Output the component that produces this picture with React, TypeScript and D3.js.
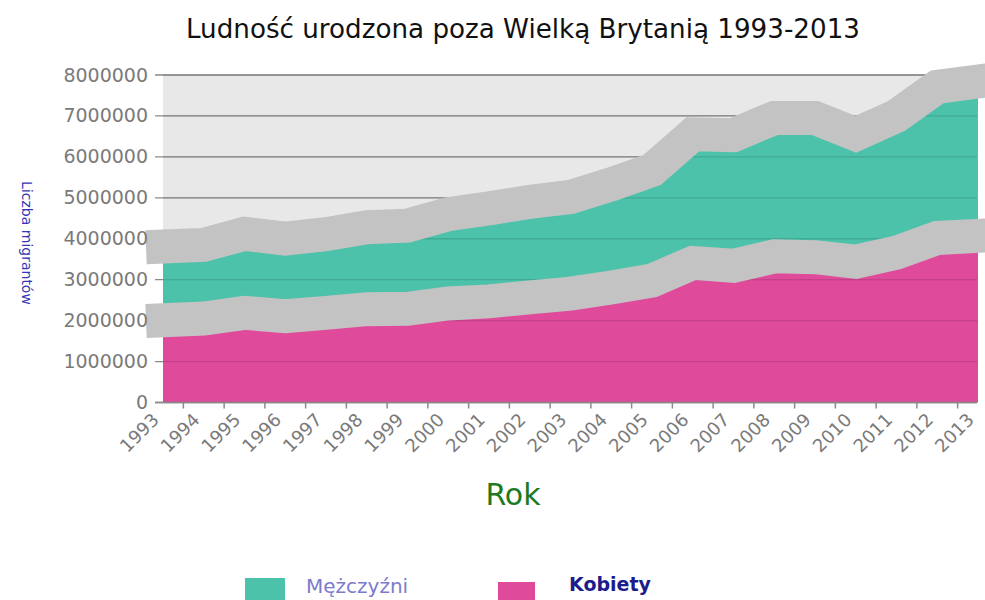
import React from "react";
import * as d3 from "d3";

const years = [1993, 1994, 1995, 1996, 1997, 1998, 1999, 2000, 2001, 2002, 2003, 2004, 2005, 2006, 2007, 2008, 2009, 2010, 2011, 2012, 2013];
const women = [2010000, 2050000, 2190000, 2110000, 2190000, 2280000, 2290000, 2420000, 2470000, 2570000, 2660000, 2810000, 2980000, 3410000, 3340000, 3570000, 3550000, 3440000, 3660000, 4020000, 4070000];
const men = [1800000, 1800000, 1930000, 1890000, 1920000, 2000000, 2030000, 2180000, 2270000, 2330000, 2360000, 2520000, 2700000, 3140000, 3190000, 3380000, 3400000, 3110000, 3340000, 3690000, 3770000];
const yTicks = [0, 1000000, 2000000, 3000000, 4000000, 5000000, 6000000, 7000000, 8000000];
const seriesKeys = ["women", "men"];
const seriesLabels = ["Mężczyźni", "Kobiety"];

const W = 985;
const H = 600;
const left = 163;
const right = 978;
const top = 75;
const bottom = 402.5;

export default function App() {
  const x = d3.scaleLinear().domain([1993, 2013]).range([left, right]);
  const y = d3.scaleLinear().domain([0, 8000000]).range([bottom, top]);

  const rows = years.map((yr, i) => ({ year: yr, women: women[i], men: men[i] }));
  const stacked = d3.stack<any>().keys(seriesKeys)(rows);

  const area = d3
    .area<any>()
    .x((d) => x(d.data.year))
    .y0((d) => y(d[0]))
    .y1((d) => y(d[1]));
  const line = d3
    .line<any>()
    .x((d) => x(d.data.year))
    .y((d) => y(d[1]));

  const fills = ["#df4a9b", "#4bc2a9"];
  const tickXs = years.slice(0, -1).map((yr) => yr + 0.5);
  const font = "'DejaVu Sans', Verdana, sans-serif";

  return (
    <svg width={W} height={H} style={{ position: "absolute", left: 0, top: 0, background: "#fff" }} fontFamily={font}>
      <text x={523} y={38} textAnchor="middle" fontSize={26} fill="#111" textLength={674} lengthAdjust="spacingAndGlyphs">
        Ludność urodzona poza Wielką Brytanią 1993-2013
      </text>
      <rect x={left} y={top} width={right - left - 1} height={bottom - top} fill="#e8e8e8" />
      {yTicks.map((t) => (
        <line key={"g" + t} x1={155} x2={right - 1} y1={y(t)} y2={y(t)} stroke="#8a8a8a" strokeWidth={1.3} />
      ))}
      {stacked.map((s, i) => (
        <path key={"a" + i} d={area(s) || ""} fill={fills[i]} />
      ))}
      {yTicks.map((t) => (
        <line key={"o" + t} x1={left} x2={right - 1} y1={y(t)} y2={y(t)} stroke="rgba(0,0,0,0.12)" strokeWidth={1.3} />
      ))}
      {stacked.map((s, i) => (
        <path
          key={"l" + i}
          d={line(s) || ""}
          fill="none"
          stroke="#c3c3c3"
          strokeWidth={34}
          strokeLinecap="square"
          strokeLinejoin="miter"
        />
      ))}
      <line x1={155} x2={right - 1} y1={bottom} y2={bottom} stroke="#8a8a8a" strokeWidth={1.5} />
      {tickXs.map((t) => (
        <line key={"t" + t} x1={x(t)} x2={x(t)} y1={bottom} y2={bottom + 6} stroke="#8a8a8a" strokeWidth={1.5} />
      ))}
      {yTicks.map((t) => (
        <text key={"yl" + t} x={148} y={y(t) + 6.5} textAnchor="end" fontSize={19} fill="#7a7a7a">
          {String(t)}
        </text>
      ))}
      {years.map((yr) => (
        <text
          key={"xl" + yr}
          transform={`translate(${x(yr) - 3},${421}) rotate(-45)`}
          textAnchor="end"
          fontSize={18}
          fill="#7a7a7a"
        >
          {String(yr)}
        </text>
      ))}
      <text transform="translate(22,243) rotate(90)" textAnchor="middle" fontSize={14} fill="#3535b5">
        Liczba migrantów
      </text>
      <text x={513} y={505} textAnchor="middle" fontSize={30} fill="#1f7a1f">
        Rok
      </text>
      <rect x={245} y={578} width={40} height={30} fill={fills[1]} />
      <text x={306} y={593} fontSize={20} fill="#7b7bcc">
        {seriesLabels[0]}
      </text>
      <rect x={498} y={582} width={37} height={30} fill={fills[0]} />
      <text x={569} y={591} fontSize={19} fontWeight="bold" fill="#1c1c8c">
        {seriesLabels[1]}
      </text>
    </svg>
  );
}
